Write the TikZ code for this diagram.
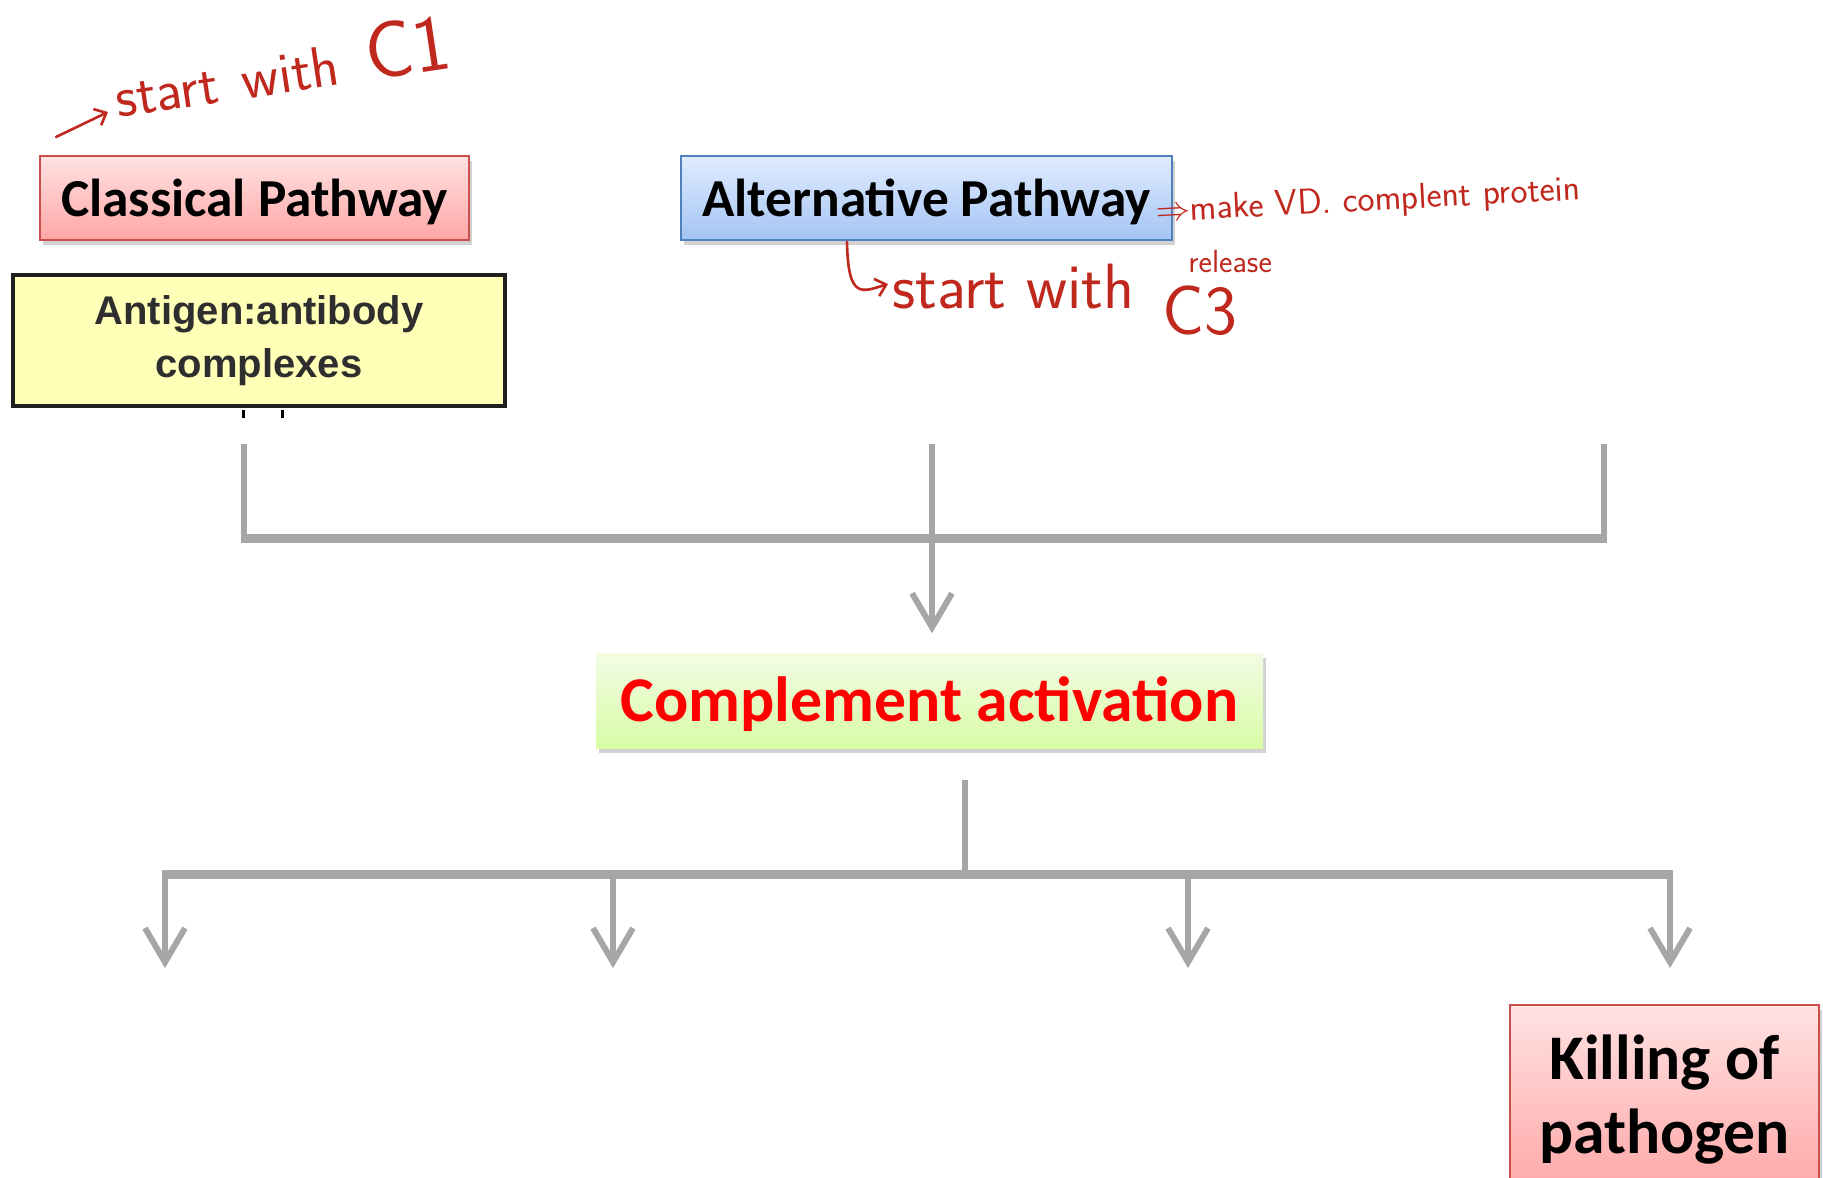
\documentclass[tikz,border=0pt]{standalone}
\usepackage{fontspec}
\setmainfont{Carlito}
\newfontfamily\arialfont{Liberation Sans}
\usetikzlibrary{arrows.meta,shadows,calc}
\definecolor{conncol}{HTML}{A6A6A6}
\definecolor{handcol}{RGB}{192,40,30}
\definecolor{pinkedge}{HTML}{C9504D}
\definecolor{pinktop}{HTML}{FFE2E2}
\definecolor{pinkbot}{HTML}{FFA6A6}
\definecolor{blueedge}{HTML}{4F81BD}
\definecolor{bluetop}{HTML}{E0ECFF}
\definecolor{bluebot}{HTML}{A4C4F4}
\definecolor{greentop}{HTML}{F2FCE4}
\definecolor{greenbot}{HTML}{D8FCA6}
\definecolor{yellowfill}{HTML}{FFFFB8}
\tikzset{
  box/.style={draw, line width=0.8pt, inner sep=0pt, align=center,
    drop shadow={opacity=0.35, shadow xshift=1.5pt, shadow yshift=-2.5pt},
    font=\bfseries\fontsize{26.7}{31}\selectfont},
  pinkbox/.style={box, draw=pinkedge, top color=pinktop, bottom color=pinkbot},
  bluebox/.style={box, draw=blueedge, top color=bluetop, bottom color=bluebot},
  greenbox/.style={box, draw=none, top color=greentop, bottom color=greenbot},
  conn/.style={draw=conncol, line width=3pt},
  hbar/.style={draw=conncol, line width=4.5pt},
  arr/.style={conn, -{Straight Barb[length=17pt,width=20pt]}},
  hand/.style={text=handcol, inner sep=0pt, font=\sffamily},
  handline/.style={draw=handcol, line width=1.3pt, line cap=round, line join=round}
}
\begin{document}
\begin{tikzpicture}[x=0.5pt,y=-0.5pt]
\clip (0,0) rectangle (1823,1177);
\fill[white] (0,0) rectangle (1823,1177);

% boxes
\node[pinkbox, minimum width=214.5pt, minimum height=42pt, text height=24.5pt, text depth=6pt] (classical) at (254.5,198) {Classical Pathway};
\node[draw=black!88, line width=2pt, fill=yellowfill, minimum width=246pt, minimum height=65.5pt,
      inner sep=0pt, align=center, text=black!82,
      font=\arialfont\bfseries\fontsize{20}{26.5}\selectfont] (antigen) at (259,340.5) {Antigen:antibody\\complexes};
\coordinate (k1) at (243,410); \coordinate (k1b) at (243,418);
\coordinate (k2) at (282,410); \coordinate (k2b) at (282,418);
\draw[black, line width=1.5pt] (k1) -- (k1b);
\draw[black, line width=1.5pt] (k2) -- (k2b);

\node[bluebox, minimum width=245.5pt, minimum height=42pt, text height=24.5pt, text depth=6pt] (alternative) at (926.5,198) {Alternative Pathway};
\node[greenbox, minimum width=333.5pt, minimum height=47.5pt, text=red, text height=28pt, text depth=7pt,
      font=\bfseries\fontsize{31.9}{36}\selectfont] (comp) at (929.5,700.5) {Complement activation};
\node[pinkbox, minimum width=154.5pt, minimum height=95pt,
      font=\bfseries\fontsize{31.8}{37}\selectfont] (killing) at (1664.5,1100) {Killing of\\pathogen};

% top bracket
\coordinate (t1) at (244,444); \coordinate (t2) at (932,444); \coordinate (t3) at (1604,444);
\coordinate (h1) at (244,538); \coordinate (h2) at (932,538); \coordinate (h3) at (1604,538);
\draw[conn] (t1) -- (h1);
\draw[conn] (t2) -- (h2);
\draw[conn] (t3) -- (h3);
\draw[hbar] ($(h1)+(-3,0)$) -- ($(h3)+(3,0)$);
\draw[arr, shorten >=9.5pt] (h2) -- (h2 |- comp.north);

% bottom fan
\coordinate (b0) at (965,874);
\draw[conn, shorten <=15.5pt] (b0 |- comp.south) -- (b0);
\coordinate (d1) at (165,874); \coordinate (d2) at (613,874);
\coordinate (d3) at (1188,874); \coordinate (d4) at (1670,874);
\coordinate (e1) at (165,968); \coordinate (e2) at (613,968);
\coordinate (e3) at (1188,968); \coordinate (e4) at (1670,968);
\draw[hbar] ($(d1)+(-3,0)$) -- ($(d4)+(3,0)$);
\draw[arr] (d1) -- (e1);
\draw[arr] (d2) -- (e2);
\draw[arr] (d3) -- (e3);
\draw[arr] (d4) -- (e4);

% handwritten notes
\node[hand, rotate=8.5, anchor=base west, font=\sffamily\fontsize{29}{29}\selectfont] (n1) at (118,118) {start\hspace{12pt}with\hspace{14pt}{\fontsize{40}{40}\selectfont C1}};
\coordinate (a1) at (56,137); \coordinate (a2) at (108,112);
\draw[handline, -{Straight Barb[length=5pt,width=9pt]}] (a1) -- (a2);

\node[hand, rotate=3, anchor=base west, font=\sffamily\fontsize{18}{18}\selectfont] (n2) at (1156,222) {$\Rightarrow$make VD. complent protein};
\node[hand, anchor=base west, font=\sffamily\fontsize{16}{16}\selectfont] (n3) at (1188,272) {release};

\coordinate (c1) at (847,242); \coordinate (c2) at (888,284);
\draw[handline, -{Straight Barb[length=5pt,width=9pt]}] (c1) .. controls (848,300) and (862,292) .. (c2);
\node[hand, anchor=base west, font=\sffamily\fontsize{32}{32}\selectfont] (n4) at (892,308) {start with \hspace{4pt}\raisebox{-13pt}{\fontsize{35}{35}\selectfont C3}};
\end{tikzpicture}
\end{document}
